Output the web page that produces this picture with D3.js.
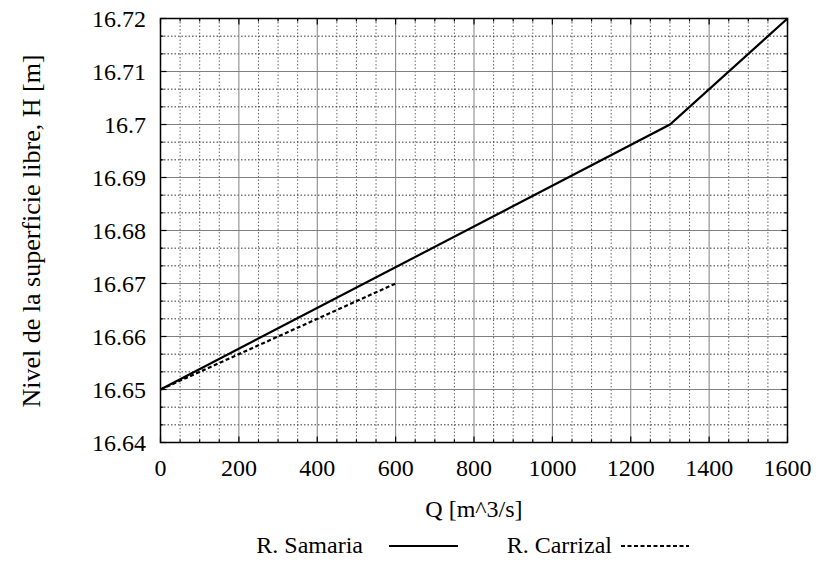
<!DOCTYPE html>
<html><head><meta charset="utf-8">
<script src="https://cdn.jsdelivr.net/npm/d3@7"></script>
<style>body{margin:0;background:#fff}</style>
</head><body>
<svg id="c" width="821" height="564" font-family="'Liberation Serif', 'Times New Roman', Times, 'DejaVu Serif', serif"></svg>
<script>
const samariaQ = [0, 1300, 1600];
const samariaH = [16.65, 16.70, 16.72];
const carrizalQ = [0, 600];
const carrizalH = [16.65, 16.67];
const xTicks = [0,200,400,600,800,1000,1200,1400,1600];
const yTicks = [16.64,16.65,16.66,16.67,16.68,16.69,16.7,16.71,16.72];
const yTickLabels = ["16.64","16.65","16.66","16.67","16.68","16.69","16.7","16.71","16.72"];
const seriesNames = ["R. Samaria","R. Carrizal"];

const svg = d3.select("#c");
const L=160.5, R=787.5, T=18.5, B=442.5;
const x = d3.scaleLinear().domain([0,1600]).range([L,R]);
const y = d3.scaleLinear().domain([16.64,16.72]).range([B,T]);
const g = svg.append("g");

// minor grid
const xMinor = d3.range(0,1600.1,50).filter(v=>v%200!==0);
const yMinor = d3.range(0,24).map(i=>16.64+i*0.01/3).filter((v,i)=>i%3!==0);
g.selectAll(".mx").data(xMinor).join("line").attr("x1",d=>x(d)).attr("x2",d=>x(d)).attr("y1",T).attr("y2",B)
 .attr("stroke","#666").attr("stroke-width",1).attr("stroke-dasharray","1.5,2");
g.selectAll(".my").data(yMinor).join("line").attr("y1",d=>y(d)).attr("y2",d=>y(d)).attr("x1",L).attr("x2",R)
 .attr("stroke","#333").attr("stroke-width",1).attr("stroke-dasharray","1.5,2");
// major grid
g.selectAll(".Mx").data(xTicks).join("line").attr("x1",d=>x(d)).attr("x2",d=>x(d)).attr("y1",T).attr("y2",B)
 .attr("stroke","#808080").attr("stroke-width",1);
g.selectAll(".My").data(yTicks).join("line").attr("y1",d=>y(d)).attr("y2",d=>y(d)).attr("x1",L).attr("x2",R)
 .attr("stroke","#808080").attr("stroke-width",1);

// ticks inside on all sides
const tk = g.append("g").attr("stroke","#000").attr("stroke-width",1.2);
xTicks.forEach(v=>{tk.append("line").attr("x1",x(v)).attr("x2",x(v)).attr("y1",B).attr("y2",B-6);
  tk.append("line").attr("x1",x(v)).attr("x2",x(v)).attr("y1",T).attr("y2",T+6);});
yTicks.forEach(v=>{tk.append("line").attr("y1",y(v)).attr("y2",y(v)).attr("x1",L).attr("x2",L+6);
  tk.append("line").attr("y1",y(v)).attr("y2",y(v)).attr("x1",R).attr("x2",R-6);});
xMinor.forEach(v=>{tk.append("line").attr("x1",x(v)).attr("x2",x(v)).attr("y1",B).attr("y2",B-3);
  tk.append("line").attr("x1",x(v)).attr("x2",x(v)).attr("y1",T).attr("y2",T+3);});
yMinor.forEach(v=>{tk.append("line").attr("y1",y(v)).attr("y2",y(v)).attr("x1",L).attr("x2",L+3);
  tk.append("line").attr("y1",y(v)).attr("y2",y(v)).attr("x1",R).attr("x2",R-3);});

// frame
g.append("rect").attr("x",L).attr("y",T).attr("width",R-L).attr("height",B-T).attr("fill","none").attr("stroke","#000").attr("stroke-width",1.5);

// tick labels
g.selectAll(".xl").data(xTicks).join("text").attr("x",d=>x(d)).attr("y",476).attr("text-anchor","middle")
 .attr("font-size",24).text(d=>d);
g.selectAll(".yl").data(yTicks).join("text").attr("x",146).attr("y",d=>y(d)+8).attr("text-anchor","end")
 .attr("font-size",24).text((d,i)=>yTickLabels[i]);

// series
const line = d3.line().x(d=>x(d[0])).y(d=>y(d[1]));
g.append("path").datum(samariaQ.map((q,i)=>[q,samariaH[i]])).attr("d",line).attr("fill","none").attr("stroke","#000").attr("stroke-width",2.2);
g.append("path").datum(carrizalQ.map((q,i)=>[q,carrizalH[i]])).attr("d",line).attr("fill","none").attr("stroke","#000").attr("stroke-width",2.2).attr("stroke-dasharray","4,2.5");

// axis titles
svg.append("text").attr("x",474).attr("y",517).attr("text-anchor","middle").attr("font-size",24).text("Q [m^3/s]");
svg.append("text").attr("transform","translate(40,231) rotate(-90)").attr("text-anchor","middle").attr("font-size",26).text("Nivel de la superficie libre, H [m]");

// legend
svg.append("text").attr("x",363).attr("y",553).attr("text-anchor","end").attr("font-size",24).text(seriesNames[0]);
svg.append("line").attr("x1",389).attr("x2",458).attr("y1",546).attr("y2",546).attr("stroke","#000").attr("stroke-width",2.2);
svg.append("text").attr("x",612).attr("y",553).attr("text-anchor","end").attr("font-size",24).text(seriesNames[1]);
svg.append("line").attr("x1",621).attr("x2",689).attr("y1",546).attr("y2",546).attr("stroke","#000").attr("stroke-width",2.2).attr("stroke-dasharray","4,2.5");
</script>
</body></html>
